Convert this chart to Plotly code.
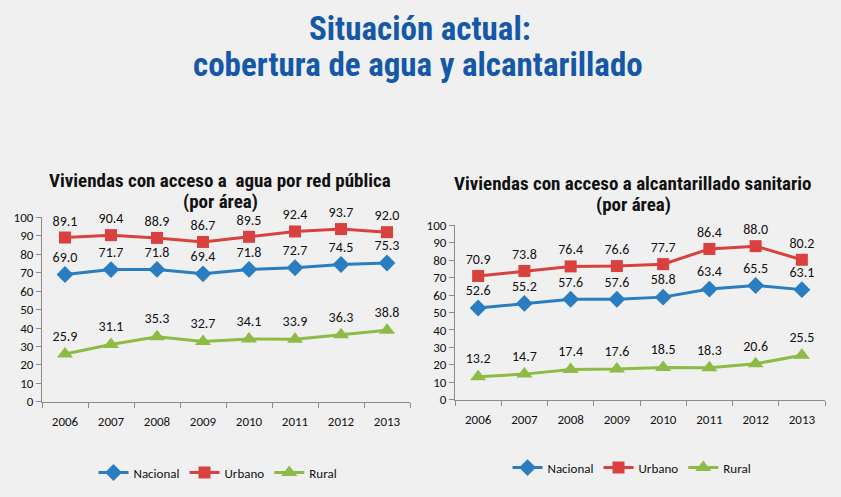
import plotly.graph_objects as go

years = ["2006", "2007", "2008", "2009", "2010", "2011", "2012", "2013"]

agua_nacional = [69.0, 71.7, 71.8, 69.4, 71.8, 72.7, 74.5, 75.3]
agua_urbano = [89.1, 90.4, 88.9, 86.7, 89.5, 92.4, 93.7, 92.0]
agua_rural = [25.9, 31.1, 35.3, 32.7, 34.1, 33.9, 36.3, 38.8]

alc_nacional = [52.6, 55.2, 57.6, 57.6, 58.8, 63.4, 65.5, 63.1]
alc_urbano = [70.9, 73.8, 76.4, 76.6, 77.7, 86.4, 88.0, 80.2]
alc_rural = [13.2, 14.7, 17.4, 17.6, 18.5, 18.3, 20.6, 25.5]

series_names = ["Nacional", "Urbano", "Rural"]
colors = ["#2a7dc0", "#d9413f", "#8dbb45"]
symbols = ["diamond", "square", "triangle-up"]
msize = [13, 12, 14]

W, H = 841, 497
label_font = "Carlito, Lato, Liberation Sans, sans-serif"
narrow = "Liberation Sans Narrow, Roboto Condensed, Arial Narrow, sans-serif"

fig = go.Figure()

def add_series(vals_list, xa, ya, legend):
    for name, vals, c, s, ms in zip(series_names, vals_list, colors, symbols, msize):
        fig.add_trace(go.Scatter(
            x=years, y=vals, name=name, mode="lines+markers+text",
            text=[f"{v:.1f}" for v in vals], textposition="top center",
            textfont=dict(family=label_font, size=14, color="#111111"),
            line=dict(color=c, width=3), marker=dict(symbol=s, size=ms, color=c),
            xaxis=xa, yaxis=ya, legend=legend, cliponaxis=False,
        ))

add_series([agua_nacional, agua_urbano, agua_rural], "x", "y", "legend")
add_series([alc_nacional, alc_urbano, alc_rural], "x2", "y2", "legend2")

def px_x(p):
    return p / W

def px_y(p):
    return 1 - p / H

axis_common = dict(showgrid=False, zeroline=False, showline=True, linecolor="#8c8c8c",
                   linewidth=1, ticks="outside", ticklen=5, tickcolor="#8c8c8c")

fig.update_layout(
    width=W, height=H,
    margin=dict(l=0, r=0, t=0, b=0),
    paper_bgcolor="#f0f0f0", plot_bgcolor="rgba(0,0,0,0)",
    xaxis=dict(domain=[px_x(42), px_x(410)], type="category", range=[-0.5, 7.5],
               tickson="boundaries", anchor="y", ticklabelstandoff=8,
               tickfont=dict(family=label_font, size=13, color="#111111"), **axis_common),
    yaxis=dict(domain=[px_y(407), px_y(217)], range=[0, 100], dtick=10, anchor="x",
               tickfont=dict(family=label_font, size=13, color="#111111"), **axis_common),
    xaxis2=dict(domain=[px_x(455), px_x(825)], type="category", range=[-0.5, 7.5],
                tickson="boundaries", anchor="y2", ticklabelstandoff=8,
                tickfont=dict(family=label_font, size=13, color="#111111"), **axis_common),
    yaxis2=dict(domain=[px_y(405), px_y(225)], range=[0, 100], dtick=10, anchor="x2",
                tickfont=dict(family=label_font, size=13, color="#111111"), **axis_common),
    legend=dict(orientation="h", x=px_x(218), y=px_y(480), xanchor="center", yanchor="middle",
                bgcolor="rgba(0,0,0,0)", font=dict(family=label_font, size=13, color="#111111"),
                itemwidth=30, tracegroupgap=0),
    legend2=dict(orientation="h", x=px_x(632), y=px_y(475), xanchor="center", yanchor="middle",
                 bgcolor="rgba(0,0,0,0)", font=dict(family=label_font, size=13, color="#111111"),
                 itemwidth=30, tracegroupgap=0),
    showlegend=True,
)

annotations = [
    dict(text="<b>Situación actual:</b>", x=px_x(420), y=px_y(22), size=33, color="#1558a8"),
    dict(text="<b>cobertura de agua y alcantarillado</b>", x=px_x(418), y=px_y(59), size=33, color="#1558a8"),
    dict(text="<b>Viviendas con acceso a  agua por red pública</b>", x=px_x(220), y=px_y(179), size=19, color="#111111"),
    dict(text="<b>(por área)</b>", x=px_x(220), y=px_y(201), size=19, color="#111111"),
    dict(text="<b>Viviendas con acceso a alcantarillado sanitario</b>", x=px_x(633), y=px_y(182), size=19, color="#111111"),
    dict(text="<b>(por área)</b>", x=px_x(633), y=px_y(204), size=19, color="#111111"),
]
for a in annotations:
    fig.add_annotation(text=a["text"], x=a["x"], y=a["y"], xref="paper", yref="paper",
                       xanchor="center", yanchor="middle", showarrow=False,
                       font=dict(family=narrow, size=a["size"], color=a["color"]))

fig.write_html("out.html")
